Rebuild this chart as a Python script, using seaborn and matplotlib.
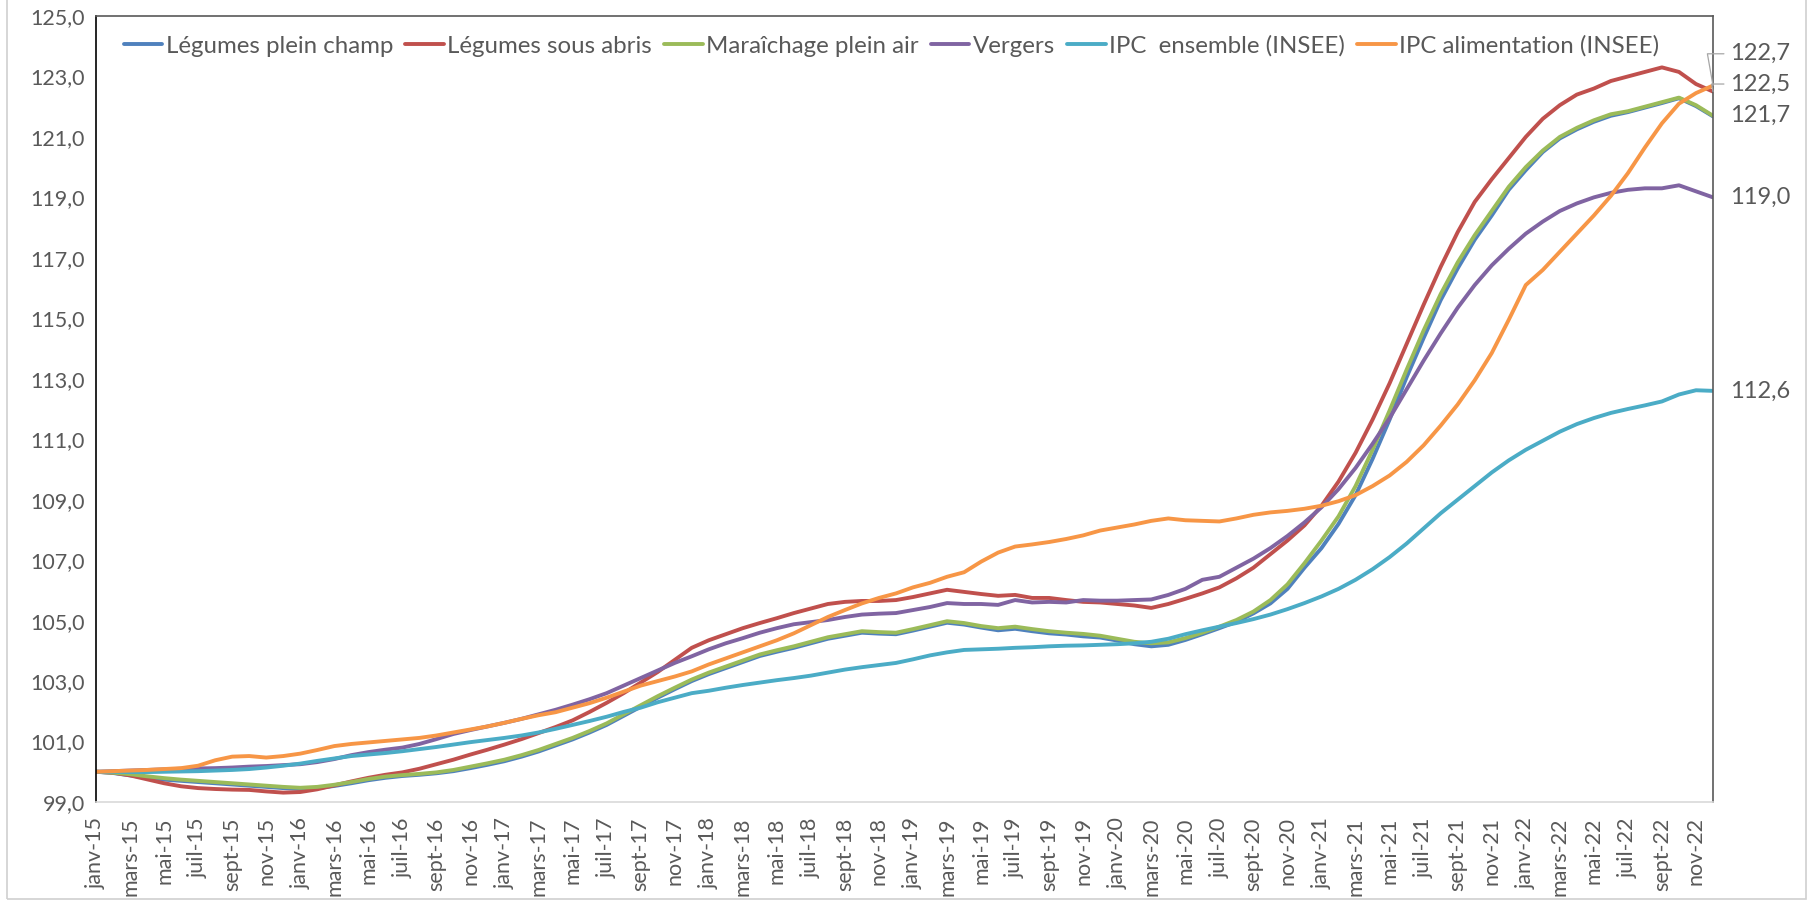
import matplotlib
matplotlib.use("Agg")
import matplotlib.pyplot as plt
from matplotlib.patches import Rectangle
import pandas as pd
import seaborn as sns

# month labels janv-15 .. déc-22
MOIS = ["janv", "févr", "mars", "avr", "mai", "juin",
        "juil", "août", "sept", "oct", "nov", "déc"]
months = [f"{m}-{y}" for y in range(15, 23) for m in MOIS]

legumes_plein_champ = [
    100.0, 99.96, 99.88, 99.8, 99.74, 99.7, 99.66, 99.62, 99.58, 99.54, 99.5, 99.46,
    99.43, 99.46, 99.53, 99.62, 99.72, 99.8, 99.86, 99.9, 99.95, 100.02, 100.12, 100.23,
    100.35, 100.5, 100.67, 100.87, 101.07, 101.3, 101.55, 101.85, 102.15, 102.45, 102.73, 103.0,
    103.23, 103.43, 103.63, 103.83, 103.97, 104.1, 104.25, 104.4, 104.5, 104.6, 104.57, 104.55,
    104.67, 104.8, 104.93, 104.87, 104.77, 104.68, 104.73, 104.65, 104.58, 104.54, 104.48, 104.44,
    104.34, 104.22, 104.15, 104.2, 104.36, 104.55, 104.75, 104.96, 105.24, 105.57, 106.05, 106.75,
    107.4, 108.2, 109.15, 110.35, 111.65, 113.05, 114.35, 115.6, 116.65, 117.6, 118.4, 119.25,
    119.9, 120.5, 120.95, 121.25, 121.5, 121.7, 121.82, 121.97, 122.12, 122.28, 122.02, 121.68,
]
legumes_sous_abris = [
    100.0, 99.97, 99.88, 99.75, 99.62, 99.52, 99.46, 99.43, 99.41, 99.4, 99.35, 99.31,
    99.33, 99.42, 99.55, 99.68, 99.8, 99.9, 99.98, 100.1, 100.25, 100.4, 100.57, 100.73,
    100.9, 101.08, 101.28, 101.48, 101.7, 101.98, 102.28, 102.6, 102.95, 103.3, 103.7, 104.1,
    104.35, 104.55, 104.75, 104.92, 105.08, 105.25, 105.4, 105.55, 105.62, 105.65, 105.65, 105.68,
    105.78, 105.9, 106.02, 105.95, 105.88, 105.82, 105.85, 105.75, 105.75, 105.68, 105.62, 105.6,
    105.55, 105.5, 105.42, 105.55, 105.72, 105.9, 106.1, 106.4, 106.75, 107.2, 107.65, 108.15,
    108.8, 109.6, 110.55, 111.65, 112.85, 114.15, 115.45, 116.7, 117.85, 118.85, 119.6, 120.3,
    121.0, 121.6, 122.05, 122.4, 122.6, 122.85, 123.0, 123.15, 123.3, 123.15, 122.75, 122.5,
]
maraichage_plein_air = [
    100.0, 99.97, 99.92, 99.85, 99.79, 99.74, 99.7, 99.66, 99.62, 99.58, 99.54, 99.5,
    99.47, 99.5, 99.57, 99.66, 99.76, 99.84, 99.89, 99.93, 99.98, 100.06, 100.17, 100.28,
    100.4, 100.55, 100.72, 100.92, 101.12, 101.35, 101.6, 101.9, 102.2, 102.5, 102.78, 103.05,
    103.28, 103.48, 103.68, 103.88, 104.02, 104.15, 104.3, 104.45, 104.55, 104.65, 104.62, 104.6,
    104.72, 104.85, 104.98, 104.92, 104.82, 104.75, 104.8, 104.72, 104.65, 104.6, 104.56, 104.5,
    104.4, 104.3, 104.25, 104.28, 104.42, 104.6, 104.8, 105.02, 105.3, 105.68, 106.2, 106.9,
    107.65, 108.45, 109.45, 110.65, 111.95, 113.3, 114.6, 115.8, 116.85, 117.75, 118.55, 119.35,
    120.0, 120.55, 121.0, 121.3, 121.55, 121.75, 121.85, 122.0, 122.15, 122.3, 122.05, 121.7,
]
vergers = [
    100.0, 100.02, 100.04, 100.06, 100.08, 100.1, 100.11, 100.12, 100.14, 100.17, 100.19, 100.22,
    100.25, 100.32, 100.42, 100.55, 100.65, 100.73, 100.8, 100.92, 101.08, 101.25, 101.38, 101.5,
    101.62, 101.75, 101.9, 102.05, 102.22, 102.4, 102.6, 102.85, 103.1, 103.35, 103.6, 103.82,
    104.05, 104.25, 104.42, 104.6, 104.75, 104.88, 104.95, 105.02, 105.12, 105.2, 105.23, 105.25,
    105.35, 105.45, 105.58, 105.55, 105.55, 105.52, 105.68, 105.6, 105.62, 105.6, 105.68, 105.66,
    105.66, 105.68, 105.7, 105.85, 106.05, 106.35, 106.45, 106.75, 107.05, 107.4, 107.8, 108.25,
    108.75, 109.35, 110.05, 110.85, 111.7, 112.65, 113.6, 114.5, 115.35, 116.1, 116.75, 117.3,
    117.8, 118.2, 118.55, 118.8, 119.0, 119.15, 119.25, 119.3, 119.3, 119.4, 119.2, 119.0,
]
ipc_ensemble = [
    100.0, 100.0, 99.99, 99.99, 100.0, 100.01, 100.02, 100.04, 100.06, 100.09, 100.14, 100.2,
    100.27, 100.36, 100.44, 100.52, 100.57, 100.62, 100.68, 100.75, 100.82, 100.9, 100.98, 101.05,
    101.12, 101.2, 101.3, 101.42, 101.55, 101.68, 101.82, 101.98, 102.12, 102.3, 102.45, 102.6,
    102.68, 102.78, 102.87, 102.95, 103.03, 103.1, 103.18, 103.28, 103.38, 103.46, 103.53, 103.6,
    103.72, 103.85, 103.95, 104.03, 104.05, 104.07, 104.1, 104.12, 104.15, 104.17, 104.18, 104.2,
    104.22, 104.25, 104.3, 104.4, 104.55, 104.68, 104.8, 104.92, 105.05, 105.2, 105.38, 105.58,
    105.8, 106.05, 106.35, 106.7, 107.1, 107.55, 108.05, 108.55, 109.0, 109.45, 109.9, 110.3,
    110.65, 110.95, 111.25, 111.5, 111.7, 111.87, 112.0, 112.12, 112.25, 112.48, 112.62, 112.6,
]
ipc_alimentation = [
    100.0, 100.02, 100.04, 100.06, 100.09, 100.12, 100.2, 100.38, 100.5, 100.52, 100.47, 100.52,
    100.6, 100.72, 100.85, 100.92, 100.97, 101.02, 101.07, 101.12, 101.2, 101.3, 101.4, 101.5,
    101.62, 101.75, 101.87, 101.97, 102.12, 102.27, 102.45, 102.65, 102.85, 103.0, 103.15, 103.32,
    103.55, 103.75, 103.95, 104.15, 104.35, 104.58, 104.85, 105.12, 105.35, 105.57, 105.75, 105.9,
    106.1, 106.25, 106.45, 106.6, 106.95, 107.25, 107.45, 107.52, 107.6, 107.7, 107.82, 107.98,
    108.08, 108.18, 108.3, 108.38, 108.32, 108.3, 108.28, 108.38, 108.5, 108.58, 108.63, 108.7,
    108.8, 108.95, 109.15, 109.45, 109.8, 110.25, 110.8, 111.45, 112.15, 112.95, 113.85, 114.95,
    116.1, 116.6, 117.2, 117.8, 118.4, 119.05, 119.8, 120.65, 121.45, 122.1, 122.45, 122.7,
]

series_names = ["Légumes plein champ", "Légumes sous abris", "Maraîchage plein air",
                "Vergers", "IPC  ensemble (INSEE)", "IPC alimentation (INSEE)"]
series_values = [legumes_plein_champ, legumes_sous_abris, maraichage_plein_air,
                 vergers, ipc_ensemble, ipc_alimentation]
colors = ["#4F81BD", "#C0504D", "#9BBB59", "#8064A2", "#4BACC6", "#F79646"]

df = pd.concat([pd.DataFrame({"mois": range(len(months)), "indice": vals, "serie": name})
                for name, vals in zip(series_names, series_values)], ignore_index=True)

sns.set_style("white")
plt.rcParams["font.family"] = ["Lato", "DejaVu Sans"]
GREY = "#595959"

fig = plt.figure(figsize=(18.12, 9.01), dpi=100)
ax = fig.add_axes([96 / 1812, 1 - 802 / 901, 1617 / 1812, 786 / 901])

sns.lineplot(data=df, x="mois", y="indice", hue="serie", hue_order=series_names,
             palette=colors, linewidth=2.8, ax=ax)

ax.set_xlim(0, len(months) - 1)
ax.set_ylim(99, 125)
ax.set_yticks(range(99, 126, 2))
ax.set_yticklabels([f"{v},0" for v in range(99, 126, 2)], fontsize=15.5, color=GREY)
ax.set_xticks(range(0, len(months), 2))
ax.set_xticklabels(months[::2], rotation=90, fontsize=15.5, color=GREY)
ax.tick_params(axis="x", length=7, color="#d9d9d9", width=1, pad=4)
ax.tick_params(axis="y", length=0, pad=8)
ax.set_xlabel("")
ax.set_ylabel("")

ax.spines["left"].set_color("black")
ax.spines["top"].set_color("#595959")
ax.spines["right"].set_color("#595959")
ax.spines["bottom"].set_color("#d9d9d9")
for s in ax.spines.values():
    s.set_linewidth(1.2)

ax.legend(loc="center", bbox_to_anchor=(0.492, 0.962), ncol=6, frameon=False,
          fontsize=17.3, handlelength=1.6, handletextpad=0.15, columnspacing=0.5,
          labelcolor=GREY)

# end-of-series value labels (two of them moved up, with leader lines)
last = len(months) - 1
label_y = {
    "IPC alimentation (INSEE)": 123.75,
    "Légumes sous abris": 122.75,
    "Maraîchage plein air": None,
    "Vergers": None,
    "IPC  ensemble (INSEE)": None,
}
for name, vals in zip(series_names, series_values):
    if name not in label_y:
        continue
    v = vals[-1]
    txt = f"{v:.1f}".replace(".", ",")
    if label_y[name] is None:
        ax.text(1.0105, v, txt, transform=ax.get_yaxis_transform(), fontsize=17,
                color=GREY, va="center", ha="left")
    else:
        ax.annotate(txt, xy=(last, v), xytext=(1.0105, label_y[name]),
                    textcoords=("axes fraction", "data"), fontsize=17, color=GREY,
                    va="center", ha="left", annotation_clip=False,
                    arrowprops=dict(arrowstyle="-", color="#a6a6a6", lw=0.9,
                                    shrinkA=2, shrinkB=0,
                                    connectionstyle="angle,angleA=180,angleB=100,rad=0"))

fig.add_artist(Rectangle((7 / 1812, 2 / 901), 1799 / 1812, 1.0, transform=fig.transFigure,
                         fill=False, edgecolor="#d0d0d0", linewidth=1.2))

fig.savefig("out.png", dpi=100)
